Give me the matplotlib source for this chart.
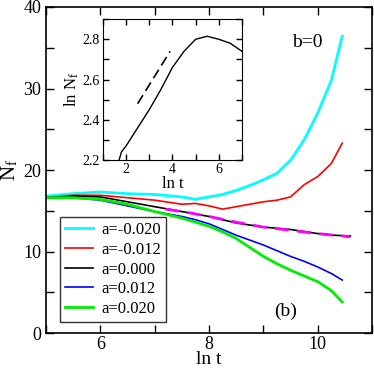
import matplotlib
matplotlib.use('Agg')
import matplotlib.pyplot as plt
from matplotlib.ticker import MultipleLocator

plt.rcParams['font.family'] = ['Liberation Serif', 'DejaVu Serif']
plt.rcParams['mathtext.fontset'] = 'stix'

# main panel: N_f vs ln t
lnt = [5.0, 5.5, 6.0, 6.5, 7.0, 7.5, 7.75, 8.0, 8.25, 8.5, 8.75, 9.0, 9.25,
       9.5, 9.75, 10.0, 10.25, 10.45]
nf_m020 = [16.8, 17.1, 17.3, 17.1, 17.0, 16.7, 16.4, 16.7, 17.0, 17.5, 18.1,
           18.8, 19.6, 21.2, 23.7, 27.0, 31.0, 36.4]
nf_m012 = [16.6, 16.9, 16.9, 16.6, 16.3, 15.8, 15.9, 15.6, 15.2, 15.5, 15.8,
           16.1, 16.3, 16.7, 18.2, 19.2, 20.8, 23.3]
nf_p012 = [16.6, 16.6, 16.3, 15.6, 14.9, 14.3, 13.9, 13.4, 12.7, 12.0, 11.4,
           10.8, 10.1, 9.4, 8.8, 8.1, 7.3, 6.5]
nf_p020 = [16.6, 16.6, 16.4, 15.8, 14.9, 14.1, 13.6, 13.1, 12.4, 11.6, 10.5,
           9.4, 8.5, 7.7, 7.0, 6.3, 5.2, 3.8]
lnt0 = [5.0, 5.5, 6.0, 6.5, 7.0, 7.5, 8.0, 8.5, 9.0, 9.5, 10.0, 10.3, 10.6]
nf_000 = [16.6, 16.8, 16.7, 16.1, 15.5, 14.9, 14.3, 13.5, 13.0, 12.7, 12.2,
          12.0, 11.9]
# fit for a=0
lnt_fit = [7.2, 7.6, 8.0, 8.5, 9.0, 9.5, 10.0, 10.6]
nf_fit = [15.2, 14.8, 14.3, 13.6, 13.0, 12.6, 12.2, 11.8]

# inset: ln N_f vs ln t for a=0
ins_x = [1.7, 1.8, 2.0, 2.5, 3.0, 3.5, 4.0, 4.5, 5.0, 5.5, 6.0, 6.5, 7.0]
ins_y = [2.2, 2.24, 2.27, 2.36, 2.45, 2.55, 2.66, 2.74, 2.80, 2.815, 2.80,
         2.78, 2.74]
slope_x = [2.5, 3.9]
slope_y = [2.48, 2.74]

fig = plt.figure(figsize=(3.74, 3.68), dpi=100)
ax = fig.add_axes([0.123, 0.095, 0.872, 0.886])

ax.plot(lnt, nf_m020, color='cyan', lw=2.0, label='a=-0.020')
ax.plot(lnt, nf_m012, color='red', lw=1.2, label='a=-0.012')
ax.plot(lnt0, nf_000, color='black', lw=1.2, label='a=0.000')
ax.plot(lnt, nf_p012, color='blue', lw=1.2, label='a=0.012')
ax.plot(lnt, nf_p020, color='#00ee00', lw=2.0, label='a=0.020')
ax.plot(lnt_fit, nf_fit, color='magenta', lw=2.0, ls=(0, (5, 3)))

ax.set_xlim(5, 11)
ax.set_ylim(0, 40)
ax.xaxis.set_major_locator(MultipleLocator(2))
ax.xaxis.set_minor_locator(MultipleLocator(1))
ax.yaxis.set_major_locator(MultipleLocator(10))
ax.yaxis.set_minor_locator(MultipleLocator(5))
ax.tick_params(which='both', direction='in', top=True, right=True,
               length=6, width=1, labelsize=13)
ax.tick_params(axis='x', pad=2)
ax.set_xlabel('ln t', fontsize=14, labelpad=-1)
ax.set_ylabel(r'N$_\mathregular{f}$', fontsize=15, labelpad=2)
for s in ax.spines.values():
    s.set_linewidth(1.2)

ax.text(9.8, 35.6, 'b=0', fontsize=14, ha='center', va='center')
ax.text(9.4, 2.7, '(b)', fontsize=14, ha='center', va='center')

leg = ax.legend(loc='lower left', bbox_to_anchor=(0.043, 0.034), fontsize=12,
                frameon=True, fancybox=False, edgecolor='black',
                handlelength=1.7, labelspacing=0.22, borderpad=0.3,
                handletextpad=0.5, borderaxespad=0)
leg.get_frame().set_linewidth(1.0)

ins = fig.add_axes([0.275, 0.565, 0.372, 0.383])
ins.plot(ins_x, ins_y, color='black', lw=1.0)
ins.plot(slope_x, slope_y, color='black', lw=1.2, ls=(0, (6, 3)))
ins.set_xlim(1, 7)
ins.set_ylim(2.2, 2.9)
ins.xaxis.set_major_locator(MultipleLocator(2))
ins.xaxis.set_minor_locator(MultipleLocator(1))
ins.yaxis.set_major_locator(MultipleLocator(0.2))
ins.yaxis.set_minor_locator(MultipleLocator(0.1))
ins.tick_params(which='both', direction='in', top=True, right=True,
                length=4, width=1, labelsize=10, pad=2)
ins.set_xlabel('ln t', fontsize=12, labelpad=0)
ins.set_ylabel(r'ln N$_\mathregular{f}$', fontsize=12, labelpad=1)

fig.savefig('out.png', dpi=100)
